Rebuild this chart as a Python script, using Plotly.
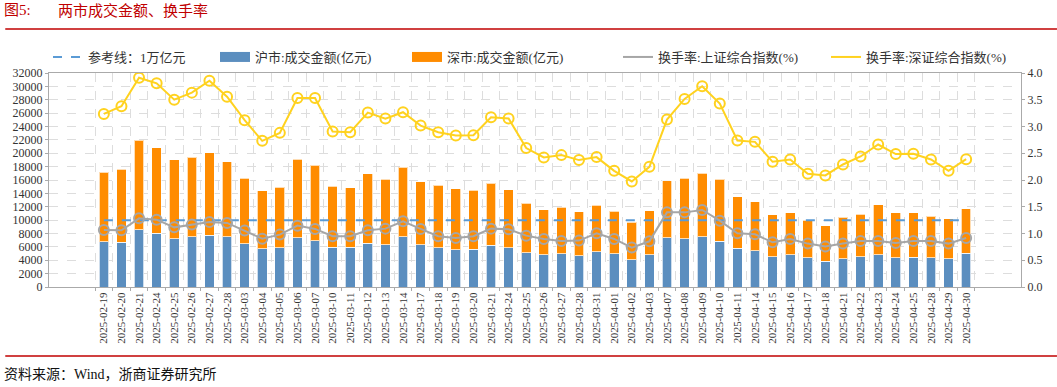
import plotly.graph_objects as go

dates = ["2025-02-19","2025-02-20","2025-02-21","2025-02-24","2025-02-25","2025-02-26","2025-02-27","2025-02-28",
         "2025-03-03","2025-03-04","2025-03-05","2025-03-06","2025-03-07","2025-03-10","2025-03-11","2025-03-12",
         "2025-03-13","2025-03-14","2025-03-17","2025-03-18","2025-03-19","2025-03-20","2025-03-21","2025-03-24",
         "2025-03-25","2025-03-26","2025-03-27","2025-03-28","2025-03-31","2025-04-01","2025-04-02","2025-04-03",
         "2025-04-07","2025-04-08","2025-04-09","2025-04-10","2025-04-11","2025-04-14","2025-04-15","2025-04-16",
         "2025-04-17","2025-04-18","2025-04-21","2025-04-22","2025-04-23","2025-04-24","2025-04-25","2025-04-28",
         "2025-04-29","2025-04-30"]

sh_amount = [6790,6690,8530,8030,7240,7490,7730,7530,6440,5690,5850,7340,6890,5940,5940,6540,
             6340,7490,6340,5850,5600,5640,6240,5890,5150,4850,4950,4700,5300,5000,4100,4850,
             7340,7240,7530,6830,5790,5450,4550,4850,4400,3850,4250,4500,4850,4350,4450,4400,
             4250,5040]

sz_amount = [10400,10950,13430,12830,11780,11930,12340,11190,9850,8710,9100,11780,11340,9160,8910,10390,
             9800,10440,9400,9400,9100,8800,9300,8660,7410,6670,6960,6520,6910,6310,5620,6520,
             8550,9050,9450,9310,7710,7310,6220,6270,5570,5330,6170,6360,7460,6720,6670,6170,
             5970,6670]

sh_turnover = [1.067,1.06,1.283,1.259,1.115,1.166,1.215,1.197,1.054,0.904,0.979,1.147,1.085,0.948,0.948,1.06,
               1.091,1.227,1.085,0.948,0.917,0.948,1.091,1.08,0.96,0.898,0.861,0.867,1.003,0.898,0.737,0.854,
               1.395,1.395,1.44,1.24,1.003,0.985,0.835,0.898,0.811,0.755,0.811,0.861,0.861,0.824,0.861,0.861,
               0.811,0.917]

sz_turnover = [3.235,3.379,3.912,3.807,3.502,3.633,3.857,3.558,3.118,2.732,2.881,3.534,3.534,2.906,2.894,3.26,
               3.148,3.267,3.017,2.894,2.831,2.838,3.174,3.148,2.596,2.421,2.465,2.372,2.428,2.172,1.973,2.247,
               3.129,3.515,3.752,3.428,2.738,2.713,2.34,2.384,2.117,2.085,2.29,2.44,2.663,2.484,2.49,2.384,
               2.172,2.39]

ref_value = 10000
ref_line = [ref_value] * len(dates)

names = ["参考线：1万亿元", "沪市:成交金额(亿元)", "深市:成交金额(亿元)",
         "换手率:上证综合指数(%)", "换手率:深证综合指数(%)"]

FONT = "Liberation Serif, Times New Roman, Noto Sans CJK SC, serif"
BLUE = "#5B8EBF"
REF_BLUE = "#5B9BD5"
ORANGE = "#FF8C00"
GRAY = "#A6A6A6"
YELLOW = "#FFD21F"

fig = go.Figure()
fig.add_trace(go.Scatter(x=dates, y=ref_line, name=names[0], mode="lines", showlegend=False,
                         line=dict(color=REF_BLUE, width=2, dash="dash")))
fig.add_trace(go.Bar(x=dates, y=sh_amount, name=names[1], marker_color=BLUE, showlegend=False,
                     marker_line=dict(color="rgba(255,255,255,0.7)", width=1)))
fig.add_trace(go.Bar(x=dates, y=sz_amount, name=names[2], marker_color=ORANGE, showlegend=False,
                     marker_line=dict(color="rgba(255,255,255,0.7)", width=1)))
fig.add_trace(go.Scatter(x=dates, y=sh_turnover, name=names[3], yaxis="y2", showlegend=False,
                         mode="lines+markers", line=dict(color=GRAY, width=2),
                         marker=dict(symbol="circle-open", size=10, line=dict(width=2, color=GRAY))))
fig.add_trace(go.Scatter(x=dates, y=sz_turnover, name=names[4], yaxis="y2", showlegend=False,
                         mode="lines+markers", line=dict(color=YELLOW, width=2),
                         marker=dict(symbol="circle-open", size=10, line=dict(width=2, color=YELLOW))))

# legend-only entries (styled like the reference legend symbols)
leg_styles = [dict(color=REF_BLUE, width=2, dash="dash"),
              dict(color=BLUE, width=10),
              dict(color=ORANGE, width=10),
              dict(color=GRAY, width=2),
              dict(color=YELLOW, width=2)]
leg_x_px = [48, 215, 407, 618, 826]
leg_keys = ["legend", "legend2", "legend3", "legend4", "legend5"]
for nm, st, key in zip(names, leg_styles, leg_keys):
    fig.add_trace(go.Scatter(x=[None], y=[None], name=nm, mode="lines", line=st,
                             legend=key, showlegend=True))

plot_l, plot_w, plot_top, plot_h = 49, 972, 73, 214
leg_y = (plot_top + plot_h - 57) / plot_h

layout_legends = {}
for key, px in zip(leg_keys, leg_x_px):
    layout_legends[key] = dict(orientation="h", x=(px - plot_l) / plot_w, y=leg_y,
                               xanchor="left", yanchor="middle",
                               font=dict(size=13, color="#333333", family=FONT),
                               bgcolor="rgba(0,0,0,0)", borderwidth=0)

fig.update_layout(
    width=1057, height=387,
    margin=dict(l=49, r=36, t=73, b=100),
    paper_bgcolor="white", plot_bgcolor="white",
    barmode="stack", bargap=0.45,
    font=dict(family=FONT, size=12, color="#333333"),
    showlegend=True,
    xaxis=dict(type="category", tickangle=-90, tickfont=dict(size=11, color="#333333"),
               tickson="boundaries", showgrid=True, gridcolor="#DDDDDD", griddash="dash",
               showline=True, linecolor="#AAAAAA", mirror=True, ticks="outside", ticklen=3,
               tickcolor="#AAAAAA"),
    yaxis=dict(range=[0, 32000], dtick=2000, tickformat="d", showgrid=True, gridcolor="#DDDDDD",
               griddash="dash", showline=True, linecolor="#AAAAAA", ticks="outside", ticklen=3,
               tickcolor="#AAAAAA", tickfont=dict(size=12, color="#333333"), zeroline=False),
    yaxis2=dict(range=[0, 4], dtick=0.5, tickformat=".1f", overlaying="y", side="right",
                showgrid=False, showline=True, linecolor="#AAAAAA", ticks="outside", ticklen=3,
                tickcolor="#AAAAAA", tickfont=dict(size=12, color="#333333"), zeroline=False),
    **layout_legends,
)

fig.add_annotation(text="图5:", xref="paper", yref="paper",
                   x=0, y=1, xanchor="left", yanchor="middle", showarrow=False,
                   xshift=-47, yshift=63, font=dict(size=15, color="#C00000", family=FONT))
fig.add_annotation(text="两市成交金额、换手率", xref="paper", yref="paper",
                   x=0, y=1, xanchor="left", yanchor="middle", showarrow=False,
                   xshift=7, yshift=63, font=dict(size=15, color="#C00000", family=FONT))
fig.add_annotation(text="资料来源：Wind，浙商证券研究所", xref="paper", yref="paper",
                   x=0, y=0, xanchor="left", yanchor="middle", showarrow=False,
                   xshift=-47, yshift=-87, font=dict(size=14, color="#111111", family=FONT))
fig.add_shape(type="line", xref="paper", yref="paper", x0=-0.045, x1=1.037, y0=1.206, y1=1.206,
              line=dict(color="#C00000", width=1.5))
fig.add_shape(type="line", xref="paper", yref="paper", x0=-0.045, x1=1.037, y0=-0.322, y1=-0.322,
              line=dict(color="#C00000", width=1.5))

fig.write_html("out.html")
